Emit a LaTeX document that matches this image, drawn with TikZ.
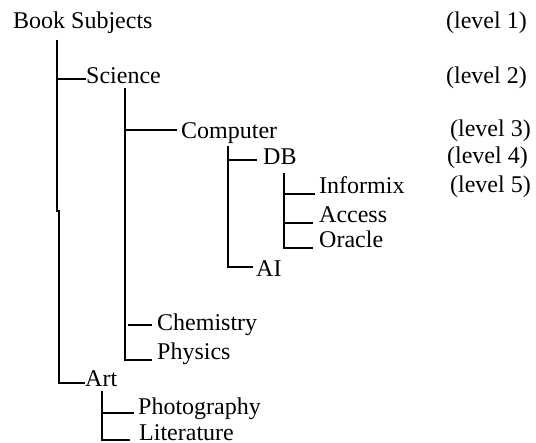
\documentclass[tikz,border=0pt]{standalone}
\usepackage{fontspec}
\setmainfont{Liberation Serif}
\begin{document}
\begin{tikzpicture}[x=1pt,y=-1pt,
  lbl/.style={anchor=base west, inner sep=0pt, font=\fontsize{24}{28}\selectfont},
  lvl/.style={anchor=base east, inner sep=0pt, font=\fontsize{24}{28}\selectfont},
  branch/.style={line width=1.8pt, line cap=butt, line join=miter}]
\useasboundingbox (0,0) rectangle (536,443);

% subject labels
\node[lbl] (book)  at (13,29)  {Book Subjects};
\node[lbl] (sci)   at (86,84)  {Science};
\node[lbl] (comp)  at (181,139) {Computer};
\node[lbl] (db)    at (263,165) {DB};
\node[lbl] (inf)   at (319,194) {Informix};
\node[lbl] (acc)   at (319,223) {Access};
\node[lbl] (ora)   at (319,248) {Oracle};
\node[lbl] (ai)    at (256,277) {AI};
\node[lbl] (chem)  at (157,331) {Chemistry};
\node[lbl] (phys)  at (157,360) {Physics};
\node[lbl] (art)   at (85,387)  {Art};
\node[lbl] (photo) at (138,415) {Photography};
\node[lbl] (lit)   at (139,441) {Literature};

% level labels
\node[lvl] (l1) at (527,29)  {(level 1)};
\node[lvl] (l2) at (527,84)  {(level 2)};
\node[lvl] (l3) at (531,137) {(level 3)};
\node[lvl] (l4) at (528,164) {(level 4)};
\node[lvl] (l5) at (531,193) {(level 5)};

% trunk lines
\coordinate (rootTop) at (57,40);
\coordinate (sciTop)  at (125,88);
\coordinate (compTop) at (228,146);
\coordinate (dbTop)   at (284,173);
\coordinate (artTop)  at (102,391);

% Book Subjects -> Science, Art
\draw[branch] (rootTop) -- (57,211) -- (59,211) -- (59,383) -- (art.west |- 0,383);
\draw[branch] (57,79) -- (sci.west |- 0,79);

% Science -> Computer, Chemistry, Physics
\draw[branch] (sciTop) -- (125,360) -- (152,360);
\draw[branch] (125,130) -- (177,130);
\draw[branch] (128,325) -- (152,325);

% Computer -> DB, AI
\draw[branch] (compTop) -- (228,267) -- (253,267);
\draw[branch] (228,160) -- (257,160);

% DB -> Informix, Access, Oracle
\draw[branch] (dbTop) -- (284,248) -- (313,248);
\draw[branch] (284,194) -- (315,194);
\draw[branch] (284,223) -- (313,223);

% Art -> Photography, Literature
\draw[branch] (artTop) -- (102,440) -- (130,440);
\draw[branch] (102,413) -- (134,413);
\end{tikzpicture}
\end{document}
